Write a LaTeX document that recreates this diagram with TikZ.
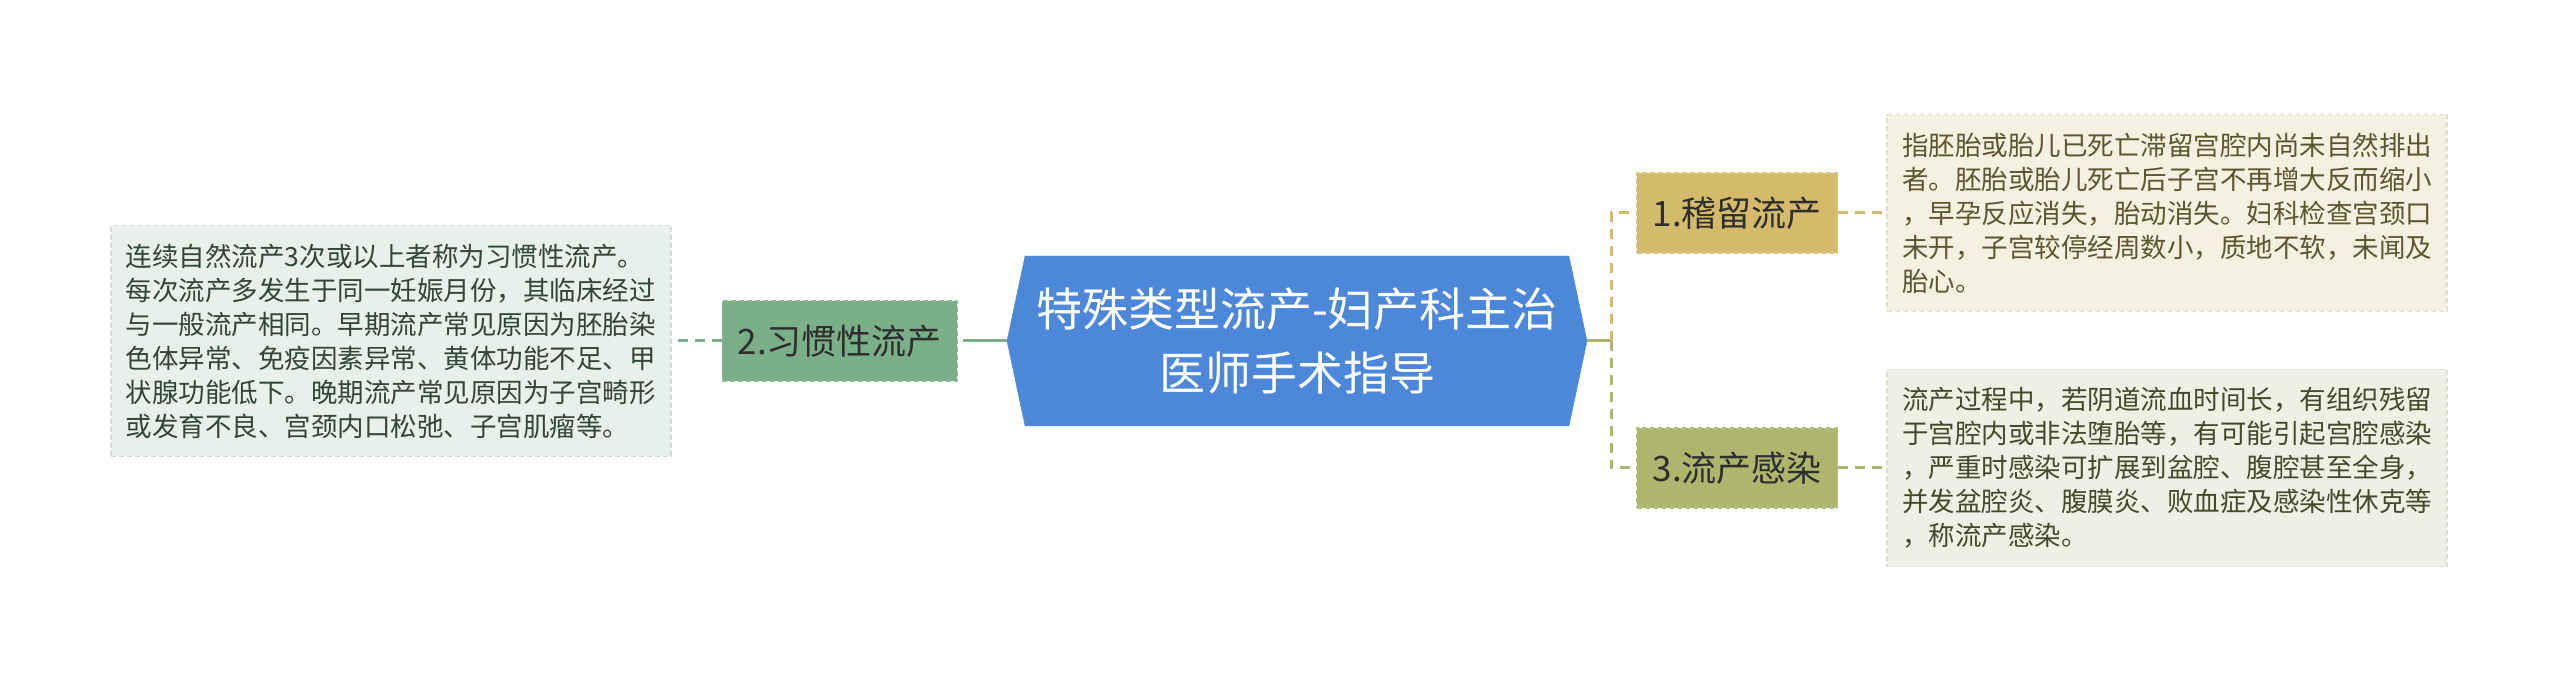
\documentclass[tikz,border=0pt]{standalone}
\usepackage{fontspec}
\setmainfont{Noto Sans CJK SC}
\usetikzlibrary{shapes.symbols,positioning}

\definecolor{rootblue}{HTML}{4C87DA}
\definecolor{habitgreen}{HTML}{7BAF88}
\definecolor{retaingold}{HTML}{D4BB6B}
\definecolor{infectolive}{HTML}{AEB56C}
\definecolor{habitleaf}{HTML}{E7F0EA}
\definecolor{retainleaf}{HTML}{F5F1E1}
\definecolor{infectleaf}{HTML}{EFEFE3}
\definecolor{topictext}{HTML}{2E2E2E}

\begin{document}
\begin{tikzpicture}[
  x=1pt, y=1pt,
  node distance=49pt,
  root/.style={shape=signal, signal to=east and west, signal pointer angle=156, fill=rootblue, draw=rootblue, minimum width=580pt, minimum height=170pt, align=center, text=white, font=\fontsize{46pt}{64pt}\selectfont},
  topic/.style={rectangle, draw, dash pattern=on 5pt off 3pt, line width=1.2pt, minimum height=80pt, minimum width=201pt, inner xsep=12pt, font=\fontsize{35pt}{42pt}\selectfont, text=topictext},
  leaf/.style={rectangle, draw, dash pattern=on 5pt off 3pt, line width=1.2pt, align=left, inner xsep=15pt, inner ysep=18pt, font=\fontsize{26.5pt}{34pt}\selectfont},
  link/.style={line width=3pt, dash pattern=on 10pt off 7pt}
]
\useasboundingbox (0,0) rectangle (2560,682);

% centre
\node[root] (root) at (1297,341) {特殊类型流产-妇产科主治\\医师手术指导};

% left branch
\node[topic, minimum width=235pt, fill=habitgreen, draw=habitgreen!85!white, left=49pt of root] (habit) {2.习惯性流产};
\node[leaf, fill=habitleaf, draw=habitleaf!92!black, text=habitgreen!40!black, left=50pt of habit] (habitnote) {连续自然流产3次或以上者称为习惯性流产。\\每次流产多发生于同一妊娠月份，其临床经过\\与一般流产相同。早期流产常见原因为胚胎染\\色体异常、免疫因素异常、黄体功能不足、甲\\状腺功能低下。晚期流产常见原因为子宫畸形\\或发育不良、宫颈内口松弛、子宫肌瘤等。};

% right branch
\node[topic, fill=retaingold, draw=retaingold!85!white, right=49pt of root, yshift=128pt] (retain) {1.稽留流产};
\node[leaf, fill=retainleaf, draw=retainleaf!92!black, text=retaingold!45!black, right=48pt of retain] (retainnote) {指胚胎或胎儿已死亡滞留宫腔内尚未自然排出\\者。胚胎或胎儿死亡后子宫不再增大反而缩小\\，早孕反应消失，胎动消失。妇科检查宫颈口\\未开，子宫较停经周数小，质地不软，未闻及\\胎心。};

\node[topic, fill=infectolive, draw=infectolive!85!white, right=49pt of root, yshift=-127pt] (infect) {3.流产感染};
\node[leaf, fill=infectleaf, draw=infectleaf!92!black, text=infectolive!40!black, right=48pt of infect] (infectnote) {流产过程中，若阴道流血时间长，有组织残留\\于宫腔内或非法堕胎等，有可能引起宫腔感染\\，严重时感染可扩展到盆腔、腹腔甚至全身，\\并发盆腔炎、腹膜炎、败血症及感染性休克等\\，称流产感染。};

% connectors
\coordinate[left=34pt of root.west] (lfork);
\coordinate[right=24pt of root.east] (rfork);
\draw[line width=3pt, habitgreen] (root.west) -- (lfork);
\draw[link, habitgreen] (lfork) -- (habit.east);
\draw[link, habitgreen] (habit.west) -- (habitnote.east);
\draw[line width=3pt, infectolive] (root.east) -- (rfork);
\draw[link, retaingold] (rfork) |- (retain.west);
\draw[link, infectolive] (rfork) |- (infect.west);
\draw[link, retaingold] (retain.east) -- (retainnote.west);
\draw[link, infectolive] (infect.east) -- (infectnote.west);

\end{tikzpicture}
\end{document}
